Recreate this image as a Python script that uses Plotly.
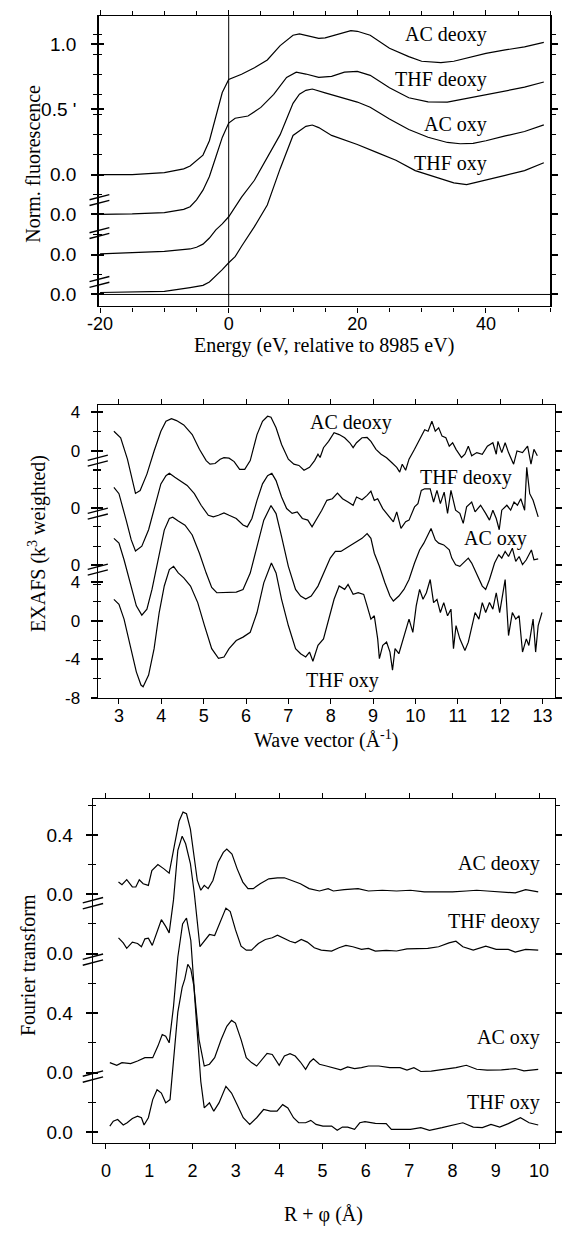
import plotly.graph_objects as go

# ---------------- data ----------------
# Panel 1: normalized Cu K-edge fluorescence (energy relative to 8985 eV)
xanes_names = ["THF oxy", "AC oxy", "THF deoxy", "AC deoxy"]
xanes_offsets = [0.0, 0.306, 0.615, 0.919]

xanes_e_ac_deoxy = [-20, -15, -10, -7, -6, -4, -3, -2, -1, 0, 2, 4, 6, 8, 10, 11, 12, 14, 15, 17, 19, 20, 22, 25, 28, 30, 33, 35, 38, 40, 43, 46, 49]
xanes_y_ac_deoxy = [0.0, 0.0, 0.015, 0.045, 0.066, 0.15, 0.26, 0.44, 0.63, 0.73, 0.77, 0.82, 0.88, 0.99, 1.07, 1.08, 1.07, 1.045, 1.05, 1.08, 1.105, 1.10, 1.07, 0.97, 0.906, 0.87, 0.86, 0.87, 0.906, 0.93, 0.957, 0.98, 1.015]

xanes_e_thf_deoxy = [-20, -15, -10, -7, -6, -5, -4, -3, -2, -1, 0, 1, 3, 5, 7, 9, 10.5, 12, 14, 16, 18, 20, 22, 25, 28, 31, 34, 37, 40, 43, 46, 49]
xanes_y_thf_deoxy = [0.0, 0.003, 0.013, 0.038, 0.058, 0.11, 0.185, 0.29, 0.44, 0.59, 0.70, 0.737, 0.754, 0.82, 0.92, 1.05, 1.09, 1.076, 1.05, 1.058, 1.09, 1.096, 1.066, 0.97, 0.894, 0.863, 0.86, 0.89, 0.92, 0.95, 0.975, 1.015]

xanes_e_ac_oxy = [-20, -15, -10, -6, -5, -4, -3, -2, -1, 0, 2, 4, 6, 8, 10, 11, 12, 13, 15, 18, 20, 22, 25, 28, 31, 34, 36, 38, 40, 43, 46, 49]
xanes_y_ac_oxy = [0.005, 0.013, 0.025, 0.043, 0.056, 0.08, 0.127, 0.19, 0.235, 0.29, 0.44, 0.57, 0.75, 0.92, 1.16, 1.23, 1.26, 1.27, 1.24, 1.20, 1.17, 1.13, 1.04, 0.96, 0.90, 0.86, 0.85, 0.853, 0.873, 0.91, 0.944, 0.995]

xanes_e_thf_oxy = [-20, -15, -10, -6, -4, -3, -2, -1, 0, 1, 2, 4, 6, 8, 10, 12, 13, 14, 16, 18, 20, 23, 26, 29, 32, 35, 37, 40, 43, 46, 49]
xanes_y_thf_oxy = [0.015, 0.018, 0.023, 0.053, 0.07, 0.096, 0.14, 0.19, 0.243, 0.29, 0.37, 0.52, 0.686, 0.965, 1.22, 1.29, 1.30, 1.28, 1.22, 1.185, 1.15, 1.09, 1.03, 0.95, 0.90, 0.856, 0.843, 0.876, 0.914, 0.95, 1.01]

# Panel 2: k^3-weighted EXAFS
exafs_offsets = [0.0, 5.74, 11.73, 17.6]

k_ac_deoxy = [2.88, 3.04, 3.2, 3.33, 3.39, 3.5, 3.66, 3.83, 3.99, 4.11, 4.24, 4.36, 4.53, 4.73, 4.9, 5.06, 5.15, 5.27, 5.39, 5.48, 5.6, 5.72, 5.85, 5.97, 6.1, 6.26, 6.39, 6.51, 6.59, 6.71, 6.84, 7.0, 7.13, 7.25, 7.37, 7.5, 7.62, 7.7, 7.75, 7.83, 7.95, 8.08, 8.2, 8.33, 8.45, 8.53, 8.61, 8.74, 8.86, 8.95, 9.07, 9.19, 9.32, 9.44, 9.56, 9.63, 9.69, 9.77, 9.85, 9.98, 10.06, 10.14, 10.22, 10.3, 10.39, 10.47, 10.55, 10.63, 10.72, 10.8, 10.88, 10.96, 11.09, 11.17, 11.25, 11.33, 11.45, 11.58, 11.7, 11.83, 11.91, 11.95, 12.04, 12.12, 12.2, 12.32, 12.4, 12.53, 12.65, 12.73, 12.8, 12.88]
chi_ac_deoxy = [2.05, 1.37, -0.85, -3.08, -4.4, -4.1, -2.4, 0.0, 2.05, 3.08, 3.35, 3.15, 2.7, 1.7, 0.17, -1.0, -1.37, -1.3, -0.85, -0.7, -0.75, -1.1, -1.9, -1.9, -1.0, 1.7, 3.08, 3.6, 3.5, 2.4, 0.68, -0.85, -1.37, -1.5, -2.0, -1.7, -1.0, -0.34, -0.68, 0.34, 1.0, 1.9, 1.7, 1.37, 0.85, 0.34, 0.85, 1.37, 1.4, 1.0, 0.17, -0.34, -0.7, -1.2, -1.7, -2.2, -1.37, -2.0, -0.85, 0.17, 0.85, 1.37, 2.2, 2.05, 3.08, 2.05, 2.4, 1.54, 1.37, 0.5, 0.85, 0.17, -0.68, -0.34, 0.5, -0.5, -0.17, -0.34, 0.5, 0.85, -0.34, 1.0, -0.17, 0.85, -0.17, -1.37, 0.0, -0.17, 0.5, -1.37, 0.17, -0.5]

k_thf_deoxy = [2.88, 3.0, 3.17, 3.29, 3.39, 3.54, 3.7, 3.87, 3.99, 4.11, 4.19, 4.32, 4.45, 4.61, 4.78, 4.94, 5.11, 5.23, 5.35, 5.48, 5.6, 5.77, 5.93, 6.03, 6.14, 6.26, 6.39, 6.51, 6.61, 6.71, 6.84, 6.96, 7.09, 7.21, 7.33, 7.46, 7.56, 7.66, 7.79, 7.91, 8.04, 8.16, 8.28, 8.41, 8.53, 8.61, 8.74, 8.86, 8.95, 9.03, 9.11, 9.23, 9.36, 9.48, 9.56, 9.66, 9.77, 9.85, 9.98, 10.06, 10.14, 10.22, 10.35, 10.43, 10.51, 10.59, 10.68, 10.76, 10.84, 10.95, 11.05, 11.13, 11.21, 11.33, 11.41, 11.54, 11.66, 11.75, 11.83, 11.91, 11.98, 12.04, 12.16, 12.25, 12.33, 12.41, 12.49, 12.58, 12.63, 12.7, 12.78, 12.9]
chi_thf_deoxy = [2.1, 1.44, -1.3, -3.35, -4.5, -4.0, -2.3, 0.4, 2.45, 3.3, 3.55, 3.15, 2.8, 2.3, 1.44, 0.24, -0.8, -0.96, -0.8, -0.55, -0.8, -1.13, -1.8, -2.0, -1.13, 0.75, 2.46, 3.3, 3.55, 2.8, 1.1, -0.1, -0.6, -0.44, -1.13, -1.3, -2.0, -1.3, -0.27, 0.75, 0.92, 1.5, 0.92, 0.58, 0.24, 1.1, 0.82, 1.27, 1.7, 0.75, 0.92, -0.1, -0.8, -1.47, -0.44, -2.15, -1.47, -1.3, 0.07, 0.41, 1.78, 1.95, 1.95, 0.58, 1.78, 0.41, 1.6, -0.6, 1.78, -0.27, -0.6, -1.64, 0.07, 0.58, -0.44, 0.24, -0.6, -1.3, -0.27, -1.13, -2.3, -0.27, 0.24, -0.27, 0.58, 0.24, 0.92, -0.27, 4.17, 1.44, 0.75, -0.96]

k_ac_oxy = [2.88, 3.0, 3.12, 3.29, 3.41, 3.54, 3.66, 3.78, 3.95, 4.07, 4.19, 4.27, 4.4, 4.56, 4.73, 4.9, 5.06, 5.19, 5.31, 5.44, 5.6, 5.77, 5.93, 6.1, 6.26, 6.42, 6.59, 6.71, 6.84, 7.0, 7.17, 7.29, 7.41, 7.54, 7.7, 7.86, 7.99, 8.11, 8.24, 8.36, 8.49, 8.61, 8.74, 8.86, 8.95, 9.03, 9.15, 9.28, 9.4, 9.48, 9.61, 9.73, 9.85, 9.98, 10.1, 10.2, 10.3, 10.37, 10.47, 10.55, 10.67, 10.8, 10.86, 10.95, 11.05, 11.13, 11.25, 11.33, 11.45, 11.58, 11.66, 11.75, 11.87, 11.97, 12.04, 12.12, 12.2, 12.29, 12.37, 12.45, 12.53, 12.62, 12.74, 12.8, 12.9]
chi_ac_oxy = [2.8, 2.3, 0.58, -2.15, -4.2, -5.16, -4.55, -2.5, 1.26, 3.66, 4.86, 5.0, 4.6, 4.17, 3.15, 1.26, -0.8, -2.3, -2.84, -2.84, -2.84, -2.77, -2.5, -0.8, 1.95, 4.68, 6.2, 5.37, 2.97, -0.1, -2.5, -3.18, -3.5, -3.18, -2.15, -0.44, 0.75, 1.44, 1.44, 1.78, 2.12, 2.46, 2.8, 3.3, 2.8, 1.26, -0.1, -1.8, -3.18, -3.7, -3.18, -2.5, -1.47, 0.24, 1.6, 2.3, 3.3, 3.83, 2.63, 2.3, 2.12, 1.6, 0.75, 0.07, -0.1, 0.24, 0.75, 0.24, -0.96, -2.15, -2.5, -1.47, 0.24, 1.1, 0.75, 1.44, 0.92, 1.78, 0.41, 0.92, 0.07, 0.58, 1.6, 0.58, 0.68]

k_thf_oxy = [2.88, 3.0, 3.12, 3.29, 3.41, 3.52, 3.57, 3.7, 3.83, 3.95, 4.07, 4.19, 4.29, 4.4, 4.53, 4.69, 4.86, 5.02, 5.19, 5.35, 5.48, 5.6, 5.77, 5.93, 6.1, 6.26, 6.42, 6.6, 6.71, 6.84, 7.0, 7.17, 7.29, 7.41, 7.5, 7.58, 7.7, 7.83, 7.95, 8.08, 8.2, 8.33, 8.41, 8.53, 8.65, 8.78, 8.86, 8.95, 9.03, 9.11, 9.15, 9.23, 9.32, 9.4, 9.46, 9.52, 9.61, 9.69, 9.77, 9.85, 9.94, 10.02, 10.1, 10.18, 10.26, 10.35, 10.43, 10.51, 10.59, 10.67, 10.76, 10.84, 10.9, 10.96, 11.05, 11.17, 11.25, 11.33, 11.41, 11.5, 11.58, 11.66, 11.75, 11.83, 11.91, 11.99, 12.08, 12.12, 12.2, 12.29, 12.37, 12.45, 12.53, 12.62, 12.68, 12.78, 12.84, 12.9, 12.99]
chi_thf_oxy = [2.22, 1.7, 0.17, -2.9, -5.3, -6.67, -6.84, -5.64, -2.9, 0.85, 3.6, 5.3, 5.64, 4.96, 4.44, 3.6, 1.88, -0.5, -2.9, -3.9, -3.76, -2.9, -2.05, -1.7, -1.2, 0.85, 3.93, 5.98, 4.96, 2.22, -0.5, -2.9, -3.42, -3.76, -3.25, -4.2, -2.56, -1.88, 0.17, 2.22, 3.6, 3.25, 3.76, 2.73, 2.9, 2.73, 1.54, 0.17, 0.51, -1.88, -3.93, -2.56, -2.22, -3.25, -5.13, -2.9, -3.42, -2.22, -1.2, 0.17, -1.2, 1.54, 3.25, 2.22, 2.9, 4.27, 1.88, 2.22, 0.85, 1.88, 0.51, 1.2, -2.9, -0.5, -1.88, -3.08, -2.22, -0.5, 0.85, 0.17, 1.88, 0.85, 1.88, 1.2, 2.9, 0.85, 3.25, 4.27, -1.54, 0.85, 0.17, 0.51, -3.25, -1.88, -2.56, 0.17, -3.25, -0.5, 0.85]

# Panel 3: Fourier transforms
ft_offsets = [0.0, 0.4, 1.2, 1.6]

r_ac_deoxy = [0.29, 0.37, 0.48, 0.61, 0.69, 0.77, 0.86, 0.98, 1.06, 1.2, 1.34, 1.46, 1.58, 1.69, 1.78, 1.86, 1.95, 2.03, 2.11, 2.19, 2.27, 2.36, 2.47, 2.59, 2.71, 2.79, 2.91, 3.03, 3.16, 3.28, 3.4, 3.56, 3.76, 3.96, 4.12, 4.29, 4.49, 4.69, 4.93, 5.13, 5.25, 5.5, 5.82, 6.06, 6.38, 6.71, 7.03, 7.35, 7.68, 8.0, 8.32, 8.56, 8.8, 9.13, 9.45, 9.69, 9.98]
ft_ac_deoxy = [0.082, 0.064, 0.098, 0.049, 0.049, 0.098, 0.071, 0.06, 0.16, 0.2, 0.171, 0.142, 0.327, 0.493, 0.553, 0.542, 0.438, 0.271, 0.093, 0.027, 0.06, 0.038, 0.093, 0.216, 0.282, 0.304, 0.271, 0.171, 0.082, 0.038, 0.038, 0.071, 0.104, 0.111, 0.111, 0.093, 0.071, 0.038, 0.022, 0.038, 0.022, 0.031, 0.038, 0.022, 0.027, 0.022, 0.027, 0.016, 0.016, 0.016, 0.022, 0.027, 0.022, 0.016, 0.009, 0.031, 0.016]

r_thf_deoxy = [0.29, 0.4, 0.48, 0.61, 0.73, 0.82, 0.9, 0.98, 1.07, 1.18, 1.28, 1.38, 1.46, 1.56, 1.66, 1.76, 1.84, 1.95, 2.04, 2.17, 2.27, 2.39, 2.51, 2.63, 2.77, 2.87, 2.99, 3.12, 3.24, 3.36, 3.52, 3.68, 3.84, 3.96, 4.08, 4.25, 4.37, 4.51, 4.65, 4.81, 4.97, 5.21, 5.38, 5.54, 5.7, 5.9, 6.06, 6.22, 6.47, 6.71, 6.95, 7.19, 7.43, 7.68, 7.92, 8.08, 8.24, 8.48, 8.77, 9.01, 9.29, 9.45, 9.69, 9.98]
ft_thf_deoxy = [0.107, 0.073, 0.036, 0.078, 0.069, 0.047, 0.1, 0.104, 0.056, 0.14, 0.229, 0.184, 0.14, 0.362, 0.696, 0.791, 0.74, 0.607, 0.407, 0.047, 0.084, 0.129, 0.122, 0.207, 0.307, 0.284, 0.162, 0.051, 0.024, 0.024, 0.069, 0.096, 0.107, 0.124, 0.107, 0.084, 0.073, 0.096, 0.078, 0.04, 0.024, 0.018, 0.04, 0.056, 0.047, 0.029, 0.036, 0.018, 0.022, 0.018, 0.033, 0.036, 0.036, 0.047, 0.073, 0.084, 0.047, 0.024, 0.051, 0.029, 0.029, 0.011, 0.029, 0.024]

r_ac_oxy = [0.09, 0.25, 0.37, 0.57, 0.73, 0.9, 1.08, 1.2, 1.3, 1.38, 1.46, 1.56, 1.66, 1.77, 1.86, 1.96, 2.04, 2.15, 2.27, 2.39, 2.51, 2.66, 2.79, 2.9, 2.99, 3.12, 3.24, 3.36, 3.48, 3.6, 3.72, 3.84, 4.0, 4.12, 4.25, 4.37, 4.49, 4.61, 4.71, 4.79, 4.93, 5.09, 5.25, 5.42, 5.58, 5.74, 5.9, 6.06, 6.3, 6.55, 6.79, 6.95, 7.11, 7.27, 7.51, 7.76, 8.08, 8.32, 8.56, 8.8, 9.13, 9.45, 9.65, 9.98]
ft_ac_oxy = [0.067, 0.049, 0.067, 0.06, 0.078, 0.1, 0.1, 0.178, 0.256, 0.244, 0.2, 0.444, 0.778, 1.0, 1.04, 0.889, 0.556, 0.222, 0.044, 0.056, 0.1, 0.222, 0.311, 0.351, 0.333, 0.222, 0.1, 0.067, 0.044, 0.089, 0.129, 0.122, 0.049, 0.111, 0.127, 0.111, 0.071, 0.022, 0.071, 0.093, 0.056, 0.044, 0.033, 0.018, 0.038, 0.027, 0.033, 0.044, 0.044, 0.033, 0.033, 0.016, 0.033, 0.007, 0.009, 0.018, 0.033, 0.049, 0.022, 0.016, 0.018, 0.027, 0.011, 0.022]

r_thf_oxy = [0.09, 0.17, 0.27, 0.4, 0.49, 0.61, 0.73, 0.82, 0.88, 0.98, 1.08, 1.18, 1.28, 1.38, 1.48, 1.57, 1.66, 1.76, 1.82, 1.89, 1.96, 2.03, 2.11, 2.19, 2.27, 2.39, 2.49, 2.61, 2.77, 2.9, 3.03, 3.17, 3.32, 3.48, 3.64, 3.8, 3.95, 4.08, 4.2, 4.33, 4.45, 4.61, 4.73, 4.85, 5.01, 5.21, 5.34, 5.46, 5.58, 5.74, 5.86, 5.98, 6.22, 6.47, 6.59, 6.79, 7.03, 7.27, 7.47, 7.76, 8.0, 8.24, 8.48, 8.69, 8.89, 9.09, 9.29, 9.57, 9.77, 9.98]
ft_thf_oxy = [0.04, 0.073, 0.084, 0.047, 0.062, 0.091, 0.107, 0.096, 0.047, 0.096, 0.218, 0.284, 0.262, 0.196, 0.218, 0.496, 0.807, 0.973, 1.029, 1.129, 1.096, 0.984, 0.651, 0.34, 0.162, 0.196, 0.14, 0.196, 0.307, 0.262, 0.184, 0.096, 0.051, 0.096, 0.151, 0.14, 0.14, 0.184, 0.162, 0.096, 0.062, 0.062, 0.078, 0.051, 0.04, 0.04, 0.011, 0.033, 0.033, 0.018, 0.062, 0.069, 0.058, 0.056, 0.018, 0.018, 0.018, 0.029, 0.011, 0.029, 0.047, 0.062, 0.033, 0.029, 0.051, 0.033, 0.056, 0.096, 0.062, 0.047]

# ---------------- layout helpers ----------------
W, H = 563, 1237
SERIF = "Liberation Serif"
SANS = "Liberation Sans"
INK = "black"


def fx(p):
    return p / W


def fy(p):
    return 1 - p / H


fig = go.Figure()


def add_curves(xs, ys, offsets, xa, ya):
    for x, y, off in zip(xs, ys, offsets):
        fig.add_trace(go.Scatter(x=x, y=[v + off for v in y], mode="lines",
                                 line=dict(color=INK, width=1.2),
                                 xaxis=xa, yaxis=ya, showlegend=False,
                                 hoverinfo="skip"))


add_curves([xanes_e_thf_oxy, xanes_e_ac_oxy, xanes_e_thf_deoxy, xanes_e_ac_deoxy],
           [xanes_y_thf_oxy, xanes_y_ac_oxy, xanes_y_thf_deoxy, xanes_y_ac_deoxy],
           xanes_offsets, "x", "y")
add_curves([k_thf_oxy, k_ac_oxy, k_thf_deoxy, k_ac_deoxy],
           [chi_thf_oxy, chi_ac_oxy, chi_thf_deoxy, chi_ac_deoxy],
           exafs_offsets, "x2", "y2")
add_curves([r_thf_oxy, r_ac_oxy, r_thf_deoxy, r_ac_deoxy],
           [ft_thf_oxy, ft_ac_oxy, ft_thf_deoxy, ft_ac_deoxy],
           ft_offsets, "x3", "y3")

# panel tick definitions
p1_tickvals = xanes_offsets + [xanes_offsets[3] + 0.5, xanes_offsets[3] + 1.0]
p1_ticktext = ["0.0", "0.0", "0.0", "0.0", "0.5 '", "1.0"]
p1_minor = [i * 0.1532 for i in range(0, 15)]

p2_tickvals = [-8, -4, 0, 4, exafs_offsets[1], exafs_offsets[2], exafs_offsets[3], exafs_offsets[3] + 4]
p2_ticktext = ["-8", "-4", "0", "4", "0", "0", "0", "4"]
p2_minor = [-6, -2, 2, exafs_offsets[1] + 2, exafs_offsets[1] - 2 + 0.0,
            exafs_offsets[2] - 2, exafs_offsets[2] + 2, exafs_offsets[3] - 2,
            exafs_offsets[3] + 2, exafs_offsets[2] + 4]

p3_tickvals = [0.0, 0.4, 0.8, 1.2, 1.6, 2.0]
p3_ticktext = ["0.0", "0.0", "0.4", "0.0", "0.0", "0.4"]
p3_minor = [0.2, 0.6, 1.0, 1.4, 1.8, 2.2]

# domains in pixels
P1 = dict(l=90, r=554, t=14.3, b=307.3)
P2 = dict(l=88.3, r=559, t=407.3, b=702.7)
P3 = dict(l=83.3, r=559, t=805, b=1152.3)


def xdom(P):
    return [fx(P["l"]), fx(P["r"])]


def ydom(P):
    return [fy(P["b"]), fy(P["t"])]


def xaxis_cfg(P, rng, tickvals, ticktext, anchor, standoff, width=1.4):
    return dict(domain=xdom(P), range=rng, anchor=anchor, tickvals=tickvals,
                ticktext=ticktext, ticks="outside", ticklen=5, tickwidth=1.2,
                tickcolor=INK, showline=True, linecolor=INK, linewidth=width,
                mirror="ticks", showgrid=False, zeroline=False,
                tickfont=dict(family=SANS, size=18, color=INK),
                ticklabelstandoff=standoff)


def yaxis_cfg(P, rng, tickvals, ticktext, minor, anchor, fsize, standoff, width=1.4):
    return dict(domain=ydom(P), range=rng, anchor=anchor, tickvals=tickvals,
                ticktext=ticktext, ticks="outside", ticklen=6, tickwidth=1.5,
                tickcolor=INK, showline=True, linecolor=INK, linewidth=width,
                mirror="ticks", showgrid=False, zeroline=False,
                tickfont=dict(family=SANS, size=fsize, color=INK),
                ticklabelstandoff=standoff,
                minor=dict(tickvals=minor, ticks="outside", ticklen=4,
                           tickwidth=1, tickcolor=INK, showgrid=False))


def yaxis_inner(P, rng, tickvals, minor, over, anchor):
    return dict(domain=ydom(P), range=rng, anchor=anchor, overlaying=over, side="left",
                tickvals=tickvals, ticks="inside", ticklen=5, tickwidth=1.5,
                tickcolor=INK, showticklabels=False, showline=False,
                showgrid=False, zeroline=False,
                minor=dict(tickvals=minor, ticks="inside", ticklen=3,
                           tickwidth=1, tickcolor=INK, showgrid=False))


fig.update_layout(
    width=W, height=H, margin=dict(l=0, r=0, t=0, b=0),
    paper_bgcolor="white", plot_bgcolor="white", showlegend=False,
    xaxis=xaxis_cfg(P1, [-20.1, 50], [-20, 0, 20, 40], ["-20", "0", "20", "40"], "y", -4),
    yaxis=yaxis_cfg(P1, [-0.091, 2.135], p1_tickvals, p1_ticktext, p1_minor, "x", 19, 11, width=2.4),
    xaxis2=xaxis_cfg(P2, [2.5, 13.3], list(range(3, 14)), [str(v) for v in range(3, 14)], "y2", -4),
    yaxis2=yaxis_cfg(P2, [-8, 22.33], p2_tickvals, p2_ticktext, p2_minor, "x2", 17, 7),
    xaxis3=xaxis_cfg(P3, [-0.3, 10.37], list(range(0, 11)), [str(v) for v in range(0, 11)], "y3", 6),
    yaxis3=yaxis_cfg(P3, [-0.075, 2.24], p3_tickvals, p3_ticktext, p3_minor, "x3", 19, 9),
    yaxis4=yaxis_inner(P1, [-0.091, 2.135], p1_tickvals, p1_minor, "y", "x"),
    yaxis5=yaxis_inner(P2, [-8, 22.33], p2_tickvals, p2_minor, "y2", "x2"),
    yaxis6=yaxis_inner(P3, [-0.075, 2.24], p3_tickvals, p3_minor, "y3", "x3"),
)
for xa, ya in [("x", "y4"), ("x2", "y5"), ("x3", "y6")]:
    fig.add_trace(go.Scatter(x=[], y=[], xaxis=xa, yaxis=ya, showlegend=False,
                             hoverinfo="skip"))

# x-axis minor ticks for panel 1 (every 5 eV)
fig.update_layout(xaxis_minor=dict(dtick=5, tick0=0, ticks="outside", ticklen=4,
                                   tickwidth=1, tickcolor=INK, showgrid=False))

shapes = []
# panel 1 reference lines: edge position and THF oxy baseline
shapes.append(dict(type="line", xref="x", yref="y domain", x0=0, x1=0, y0=0, y1=1,
                   line=dict(color=INK, width=1)))
shapes.append(dict(type="line", xref="x domain", yref="y", x0=0, x1=1,
                   y0=xanes_offsets[0], y1=xanes_offsets[0], line=dict(color=INK, width=1)))


def add_breaks(ya, xa_dom, breaks, dy):
    for b in breaks:
        for d in (-dy, dy):
            shapes.append(dict(type="line", xref=xa_dom, yref=ya,
                               x0=-0.022, x1=0.022, y0=b + d - dy * 0.9, y1=b + d + dy * 0.9,
                               line=dict(color=INK, width=1.4)))


add_breaks("y", "x domain", [0.096, 0.471, 0.724], 0.022)
add_breaks("y2", "x2 domain", [5.3, 11.1, 16.6], 0.3)
add_breaks("y3", "x3 domain", [0.373, 1.16, 1.54], 0.02)
fig.update_layout(shapes=shapes)

ann = []
lab_font = dict(family=SERIF, size=20, color=INK)
# curve labels (pixel positions)
for txt, xr, yc in [("AC deoxy", 491, 33.3), ("THF deoxy", 491, 78.3),
                    ("AC oxy", 491, 124), ("THF oxy", 491, 163.3)]:
    ann.append(dict(text=txt, x=fx(xr), y=fy(yc), xref="paper", yref="paper",
                    xanchor="right", yanchor="middle", showarrow=False, font=lab_font))
for txt, xc, yc in [("AC deoxy", 349, 425), ("THF deoxy", 467.6, 480),
                    ("AC oxy", 498, 541.7), ("THF oxy", 340, 685)]:
    ann.append(dict(text=txt, x=fx(xc), y=fy(yc), xref="paper", yref="paper",
                    xanchor="center", yanchor="middle", showarrow=False, font=lab_font))
for txt, xr, yc in [("AC deoxy", 545, 870), ("THF deoxy", 545, 928.3),
                    ("AC oxy", 545, 1045.7), ("THF oxy", 545, 1111)]:
    ann.append(dict(text=txt, x=fx(xr), y=fy(yc), xref="paper", yref="paper",
                    xanchor="right", yanchor="middle", showarrow=False, font=lab_font))

title_font = dict(family=SERIF, size=20, color=INK)
for txt, xc, yc, ang in [
        ("Energy (eV, relative to 8985 eV)", 321, 347, 0),
        ("Wave vector (Å<sup>-1</sup>)", 323, 745, 0),
        ("R + φ (Å)", 321, 1224, 0),
        ("Norm. fluorescence", 22, 163, -90),
        ("EXAFS (k<sup>3</sup> weighted)", 26, 547, -90),
        ("Fourier transform", 16, 973, -90)]:
    ann.append(dict(text=txt, x=fx(xc), y=fy(yc), textangle=ang,
                    xref="paper", yref="paper", xanchor="center", yanchor="middle",
                    showarrow=False, font=title_font))
fig.update_layout(annotations=ann)

fig.write_html("out.html")
